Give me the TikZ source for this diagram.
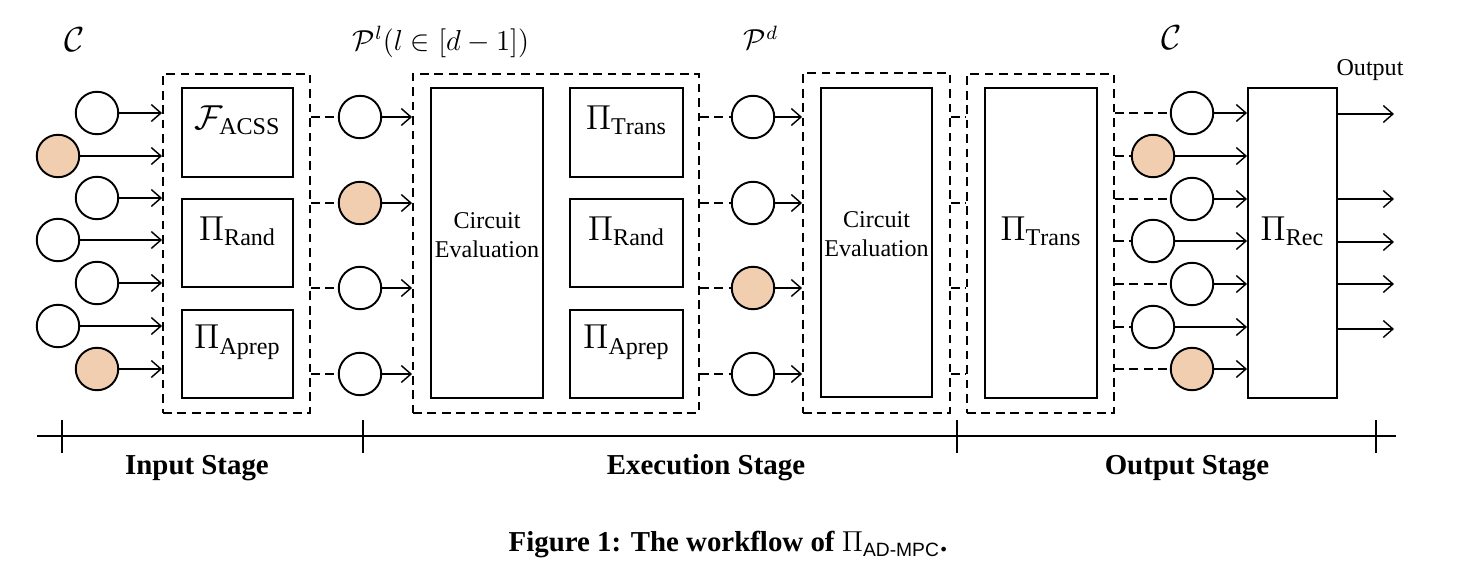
\documentclass[tikz,border=0pt]{standalone}
\usepackage{amsmath}
\usepackage{fontspec}
\setmainfont{Liberation Serif}
\setsansfont{Liberation Sans}
\usetikzlibrary{fit,arrows.meta}
\definecolor{partyfill}{RGB}{242,206,176}
\tikzset{
  party/.style={circle, draw, line width=0.8pt, minimum size=0.62cm, inner sep=0pt},
  corrupt/.style={party, fill=partyfill},
  proto/.style={draw, line width=0.8pt, inner sep=0pt, align=center},
  stagebox/.style={draw, line width=0.8pt, dash pattern=on 3.6pt off 2.4pt, inner sep=0pt},
  link/.style={line width=0.6pt, -{Straight Barb[length=4pt,width=7pt]}},
  relay/.style={line width=0.8pt, dash pattern=on 3.6pt off 2.4pt},
  tick/.style={line width=0.6pt},
}
\begin{document}
\begin{tikzpicture}[x=0.0146cm, y=-0.0146cm, font=\fontsize{10}{12}\selectfont]
  \useasboundingbox (0,0) rectangle (1464,578);
  % labels on top
  \node (cin)  at (75,40)   {\Large$\mathcal{C}$};
  \node (pl)   at (441,42)  {\large$\mathcal{P}^{l}(l\in[d-1])$};
  \node (pd)   at (761,38)  {\large$\mathcal{P}^{d}$};
  \node (cout) at (1172,38) {\Large$\mathcal{C}$};
  \node (outlbl) at (1370,70) {Output};
  % dashed stage boxes
  \node[stagebox, fit={(163,74) (310,413)}] (inbox) {};
  \node[stagebox, fit={(413,74) (699,413)}] (exbox) {};
  \node[stagebox, fit={(803,73) (950,413)}] (evbox) {};
  \node[stagebox, fit={(967,74) (1114,413)}] (trbox) {};
  % protocol boxes
  \node[proto, fit={(182,88) (293,177)}]  (acss)   {\Large$\mathcal{F}_{\mathrm{ACSS}}$};
  \node[proto, fit={(182,199) (293,287)}] (rand1)  {\Large$\Pi_{\mathrm{Rand}}$};
  \node[proto, fit={(182,310) (293,398)}] (aprep1) {\Large$\Pi_{\mathrm{Aprep}}$};
  \node[proto, fit={(431,88) (543,398)}]  (circ1)  {Circuit\\Evaluation};
  \node[proto, fit={(570,88) (683,177)}]  (trans2) {\Large$\Pi_{\mathrm{Trans}}$};
  \node[proto, fit={(570,199) (683,287)}] (rand2)  {\Large$\Pi_{\mathrm{Rand}}$};
  \node[proto, fit={(570,310) (683,398)}] (aprep2) {\Large$\Pi_{\mathrm{Aprep}}$};
  \node[proto, fit={(821,88) (932,397)}]  (circ2)  {Circuit\\Evaluation};
  \node[proto, fit={(985,88) (1097,398)}] (trans3) {\Large$\Pi_{\mathrm{Trans}}$};
  \node[proto, fit={(1248,88) (1337,398)}] (rec)   {\Large$\Pi_{\mathrm{Rec}}$};
  % input parties
  \node[party]   (c1) at (97,113) {};
  \node[corrupt] (c2) at (58,156) {};
  \node[party]   (c3) at (97,198) {};
  \node[party]   (c4) at (58,240) {};
  \node[party]   (c5) at (97,283) {};
  \node[party]   (c6) at (58,326) {};
  \node[corrupt] (c7) at (97,369) {};
  % committee P^l
  \node[party]   (p1) at (360,117) {};
  \node[corrupt] (p2) at (360,203) {};
  \node[party]   (p3) at (360,288) {};
  \node[party]   (p4) at (360,374) {};
  % committee P^d
  \node[party]   (q1) at (753,117) {};
  \node[party]   (q2) at (753,203) {};
  \node[corrupt] (q3) at (753,288) {};
  \node[party]   (q4) at (753,374) {};
  % output parties
  \node[party]   (o1) at (1192,113) {};
  \node[corrupt] (o2) at (1153,156) {};
  \node[party]   (o3) at (1192,199) {};
  \node[party]   (o4) at (1153,241) {};
  \node[party]   (o5) at (1192,284) {};
  \node[party]   (o6) at (1153,327) {};
  \node[corrupt] (o7) at (1192,369) {};
  % input stage arrows
  \draw[link] (c1) -- (c1 -| inbox.west);
  \draw[link] (c2) -- (c2 -| inbox.west);
  \draw[link] (c3) -- (c3 -| inbox.west);
  \draw[link] (c4) -- (c4 -| inbox.west);
  \draw[link] (c5) -- (c5 -| inbox.west);
  \draw[link] (c6) -- (c6 -| inbox.west);
  \draw[link] (c7) -- (c7 -| inbox.west);
  % P^l
  \draw[relay] (p1 -| inbox.east) -- (p1);
  \draw[relay] (p2 -| inbox.east) -- (p2);
  \draw[relay] (p3 -| inbox.east) -- (p3);
  \draw[relay] (p4 -| inbox.east) -- (p4);
  \draw[link] (p1) -- (p1 -| exbox.west);
  \draw[link] (p2) -- (p2 -| exbox.west);
  \draw[link] (p3) -- (p3 -| exbox.west);
  \draw[link] (p4) -- (p4 -| exbox.west);
  % P^d
  \draw[relay] (q1 -| exbox.east) -- (q1);
  \draw[relay] (q2 -| exbox.east) -- (q2);
  \draw[relay] (q3 -| exbox.east) -- (q3);
  \draw[relay] (q4 -| exbox.east) -- (q4);
  \draw[link] (q1) -- (q1 -| evbox.west);
  \draw[link] (q2) -- (q2 -| evbox.west);
  \draw[link] (q3) -- (q3 -| evbox.west);
  \draw[link] (q4) -- (q4 -| evbox.west);
  \draw[relay] (q1 -| evbox.east) -- (q1 -| trbox.west);
  \draw[relay] (q2 -| evbox.east) -- (q2 -| trbox.west);
  \draw[relay] (q3 -| evbox.east) -- (q3 -| trbox.west);
  \draw[relay] (q4 -| evbox.east) -- (q4 -| trbox.west);
  % output parties
  \draw[relay] (o1 -| trbox.east) -- (o1);
  \draw[relay] (o2 -| trbox.east) -- (o2);
  \draw[relay] (o3 -| trbox.east) -- (o3);
  \draw[relay] (o4 -| trbox.east) -- (o4);
  \draw[relay] (o5 -| trbox.east) -- (o5);
  \draw[relay] (o6 -| trbox.east) -- (o6);
  \draw[relay] (o7 -| trbox.east) -- (o7);
  \draw[link] (o1) -- (o1 -| rec.west);
  \draw[link] (o2) -- (o2 -| rec.west);
  \draw[link] (o3) -- (o3 -| rec.west);
  \draw[link] (o4) -- (o4 -| rec.west);
  \draw[link] (o5) -- (o5 -| rec.west);
  \draw[link] (o6) -- (o6 -| rec.west);
  \draw[link] (o7) -- (o7 -| rec.west);
  % outputs
  \coordinate (out1) at (1394,114);
  \coordinate (out2) at (1394,199);
  \coordinate (out3) at (1394,242);
  \coordinate (out4) at (1394,284);
  \coordinate (out5) at (1394,329);
  \draw[link] (out1 -| rec.east) -- (out1);
  \draw[link] (out2 -| rec.east) -- (out2);
  \draw[link] (out3 -| rec.east) -- (out3);
  \draw[link] (out4 -| rec.east) -- (out4);
  \draw[link] (out5 -| rec.east) -- (out5);
  % time line
  \coordinate (tl0) at (37,436);
  \coordinate (tl1) at (1396,436);
  \draw[line width=1pt] (tl0) -- (tl1);
  \draw[tick] (62,420) -- (62,453);
  \draw[tick] (363,420) -- (363,453);
  \draw[tick] (957,420) -- (957,453);
  \draw[tick] (1376,420) -- (1376,453);
  \node (instage)  at (197,468)  {\large\bfseries Input Stage};
  \node (exstage)  at (706,468)  {\large\bfseries Execution Stage};
  \node (outstage) at (1187,468) {\large\bfseries Output Stage};
  % caption
  \node (cap) at (728,545) {\large\bfseries Figure 1: The workflow of $\Pi_{\textsf{\mdseries AD-MPC}}$.};
\end{tikzpicture}
\end{document}
